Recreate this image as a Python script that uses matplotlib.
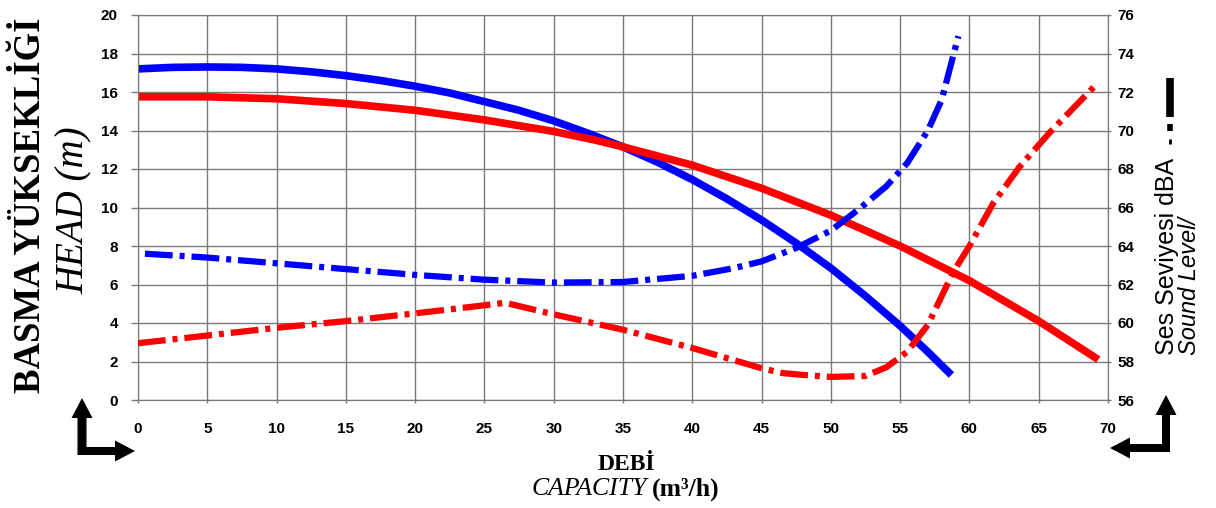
import matplotlib
matplotlib.use("Agg")
import matplotlib.pyplot as plt
from matplotlib.lines import Line2D
from matplotlib.patches import FancyArrow
from matplotlib.transforms import IdentityTransform

# pump curves
blue_q = [0, 2.5, 5, 7.5, 10, 12.5, 15, 17.5, 20, 22.5, 25, 27.5, 30, 32.5,
          35, 37.5, 40, 42.5, 45, 47.5, 50, 52.5, 55, 57, 58.7]
blue_head = [17.2, 17.28, 17.3, 17.28, 17.2, 17.05, 16.85, 16.6, 16.3, 15.95,
             15.5, 15.05, 14.5, 13.85, 13.15, 12.35, 11.45, 10.45, 9.35, 8.15,
             6.85, 5.4, 3.85, 2.5, 1.3]

red_q = [0, 5, 10, 15, 20, 25, 30, 33, 35, 40, 45, 50, 55, 60, 65, 69.3]
red_head = [15.75, 15.75, 15.65, 15.4, 15.05, 14.55, 13.95, 13.5, 13.15, 12.2,
            11.0, 9.6, 8.0, 6.2, 4.1, 2.1]

blue_snd_q = [0.5, 5, 10, 15, 20, 25, 30, 35, 40, 43, 45, 47.5, 50, 52, 54,
              55.5, 57, 58, 59.2]
blue_snd = [63.6, 63.4, 63.1, 62.8, 62.5, 62.25, 62.1, 62.13, 62.45, 62.85,
            63.2, 63.9, 64.8, 65.9, 67.1, 68.3, 70.0, 71.6, 74.9]

red_snd_q = [0, 5, 10, 15, 20, 23, 26.5, 30, 35, 40, 45, 46.5, 48, 50, 52.5,
             54, 55.5, 57, 58.8, 60, 61.7, 63.6, 65.8, 69.3]
red_snd = [58.95, 59.35, 59.75, 60.1, 60.5, 60.75, 61.05, 60.45, 59.65, 58.7,
           57.65, 57.4, 57.3, 57.2, 57.25, 57.7, 58.5, 59.9, 62.6, 64.0, 66.2,
           68.1, 69.9, 72.5]

BLUE = "#0000FF"
RED = "#FF0000"
W, H = 1216, 508

plt.rcParams["lines.scale_dashes"] = False
dashdot = (0, (20, 5, 3.6, 5))
tickfont = {"family": "Liberation Sans", "weight": "bold", "size": 11}

fig = plt.figure(figsize=(W / 100, H / 100), dpi=100)
ax = fig.add_axes([138 / W, 1 - 400 / H, 970 / W, 385 / H])
ax2 = ax.twinx()

ax.plot(blue_q, blue_head, color=BLUE, lw=5.5, solid_capstyle="butt", zorder=3)
ax.plot(red_q, red_head, color=RED, lw=5.5, solid_capstyle="butt", zorder=3)
ax2.plot(blue_snd_q, blue_snd, color=BLUE, lw=4.5, ls=dashdot, zorder=3)
ax2.plot(red_snd_q, red_snd, color=RED, lw=4.5, ls=dashdot, zorder=3)

ax.set_xlim(0, 70)
ax.set_ylim(0, 20)
ax2.set_ylim(56, 76)
ax.set_xticks(range(0, 71, 5))
ax.set_yticks(range(0, 21, 2))
ax2.set_yticks(range(56, 77, 2))
ax.grid(True, color="#7a7a7a", lw=1)
for a in (ax, ax2):
    for s in a.spines.values():
        s.set_color("#7a7a7a")
    for lab in a.get_xticklabels() + a.get_yticklabels():
        lab.set_fontproperties(tickfont)
ax.tick_params(axis="y", length=5, width=1, color="#7a7a7a", pad=9.5)
ax.tick_params(axis="x", length=2, width=1, color="#7a7a7a", pad=14)
ax2.tick_params(axis="y", length=2, width=1, color="#7a7a7a", pad=5)

# axis titles
serif = "Liberation Serif"
fig.text(31 / W, 1 - 205 / H, "BASMA YÜKSEKLİĞİ", rotation=90, ha="center",
         va="center", family=serif, weight="bold", size=26.5)
fig.text(74 / W, 1 - 210 / H, "HEAD (m)", rotation=90, ha="center",
         va="center", family=serif, style="italic", size=28)
fig.text(626 / W, 1 - 464 / H, "DEBİ", ha="center", va="center",
         family=serif, weight="bold", size=17)
fig.text(647 / W, 1 - 489 / H, "CAPACITY", ha="right", va="center",
         family=serif, style="italic", size=18.5)
fig.text(652 / W, 1 - 489 / H, "(m³/h)", ha="left", va="center",
         family=serif, weight="bold", size=18.5)
fig.text(1167 / W, 1 - 355 / H, "Ses Seviyesi dBA", rotation=90, ha="center",
         va="bottom", family="Liberation Sans", size=18)
fig.text(1189 / W, 1 - 355 / H, "Sound Level/", rotation=90, ha="center",
         va="bottom", family="Liberation Sans", style="italic", size=17)

# little line-style key after "dBA"
for y0, y1, lw in [(78, 117, 5.5), (124, 131, 4), (139, 144, 2)]:
    fig.add_artist(Line2D([1170 / W, 1170 / W], [1 - y0 / H, 1 - y1 / H],
                          color="black", lw=lw, solid_capstyle="butt",
                          transform=fig.transFigure))


def arrow(x0, y0, x1, y1, width):
    fig.add_artist(FancyArrow(
        x0, H - y0, x1 - x0, y0 - y1, width=width, head_width=21,
        head_length=20, length_includes_head=True, color="black", lw=0,
        transform=IdentityTransform()))


arrow(82, 455, 82, 398, 9)
arrow(78, 451, 135, 451, 8)
arrow(1166, 452, 1166, 395, 8)
arrow(1170, 448, 1110, 448, 8)

fig.savefig("out.png", dpi=100)
